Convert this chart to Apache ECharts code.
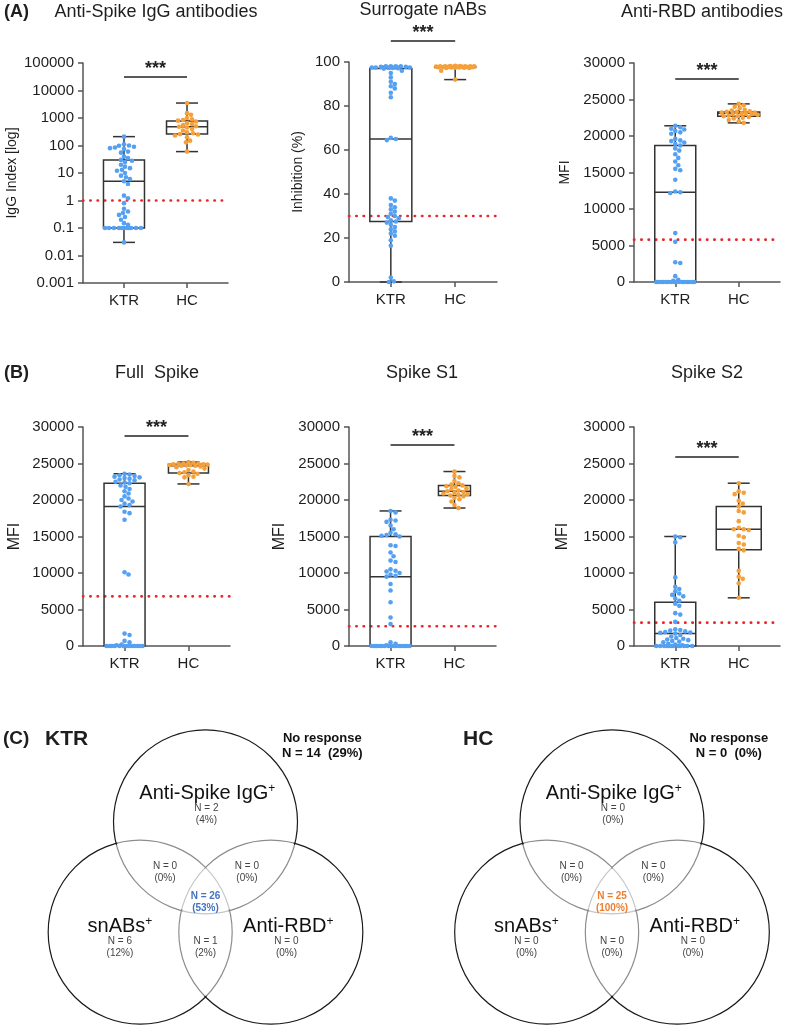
<!DOCTYPE html>
<html><head><meta charset="utf-8">
<script src="https://cdn.jsdelivr.net/npm/echarts@6/dist/echarts.min.js"></script>
<style>html,body{margin:0;padding:0;background:#fff}#c{width:789px;height:1025px}</style>
</head><body><div id="c"></div>
<script>
const FONT = '"Liberation Sans", Arial, sans-serif';
const categories = ['KTR', 'HC'];

// ---------- Panel A1: Anti-Spike IgG (log) ----------
const iggKTR = [210,110,100,98,90,85,80,75,60,55,40,35, 30,28,25,20,17,15,13,12,10,8,7,6, 5,
  4,1.5,1.2,0.8,0.5,0.4,0.35,0.3,0.25,0.2,0.15,0.13, 0.1,0.1,0.1,0.1,0.1,0.1,0.1,0.1,0.1,0.1,0.1, 0.03];
const iggHC = [3500,1500,1300,1000,900,850, 800,750,650,600,550,500, 480, 450,400,350,300,280,260, 250,230,200,150,130,60];
const iggBoxKTR = [0.03, 0.1, 5, 30, 210];   // min, q1, median, q3, max
const iggBoxHC = [60, 260, 480, 780, 3500];
const iggCutoff = 1;

// ---------- Panel A2: Surrogate nABs ----------
const snabKTR = [98,98,98,98,97.8,97.8,97.5,97.5,97.5,97.3,97.3,97.2, 97,96,95,93,91,90,89,88,86,84,65.5,65, 64.5,
  38,37,35,34,33,32,31,30,29.5,29,28,27.5,27,26,25,24,23,22,21,19,16.5,2,0.3,0];
const snabHC = [98.3,98.2,98.2,98.1,98.1,98,98,98,97.9,97.9,97.8,97.8,97.8,97.7,97.7,97.6,97.6,97.5,97.5,97.4,97.4,97.3,97.3,96,92];
const snabBoxKTR = [0, 27.5, 65, 97, 98];
const snabBoxHC = [92, 97.5, 97.8, 98, 98.3];
const snabCutoff = 30;

// ---------- Panel A3: Anti-RBD ----------
const rbdKTR = [21400,21200,21000,20900,20700,20500,20300,19600,19400,19300,19100,18900,
  18700,18300,18000,17500,17000,16500,16000,15500,15300,14000,12400,12300, 12200,
  6700,5500,2700,2600,800,300,150, 0,0,0,0,0,0,0,0,0,0,0,0,0,0,0,0,0];
const rbdHC = [24400,24200,24000,23800,23600,23500,23400,23300,23300,23200,23200,23100,23100,23000,23000,22900,22800,22700,22700,22600,22500,22400,22200,22000,21800];
const rbdBoxKTR = [0, 0, 12300, 18700, 21400];
const rbdBoxHC = [21800, 22700, 23100, 23300, 24400];
const rbdCutoff = 5800;

// ---------- Panel B1: Full Spike ----------
const fullKTR = [23600,23500,23400,23300,23200,23100,23000,22900,22800,22700,22500,22400,
  22300,22000,21800,21500,21200,20900,20500,20200,20000,19800,19500,19300, 19100,
  18400,18200,17300,10100,9800,1700,1500,700,500,200,100, 0,0,0,0,0,0,0,0,0,0,0,0,0];
const fullHC = [25200,25100,25000,25000,24950,24900,24900,24850,24800,24800,24750,24700,24700,24600,24500,24300,24100,23900,23800,23700,23600,23400,23200,23100,22200];
const fullBoxKTR = [0, 0, 19100, 22300, 23600];
const fullBoxHC = [22200, 23700, 24700, 24900, 25200];
const fullCutoff = 6800;

// ---------- Panel B2: Spike S1 ----------
const s1KTR = [18500,18300,17300,17200,17000,16500,16000,15500,15300,15200,15100,15000,
  13800,13700,12800,12300,11700,11500,10500,10300,10200,10000,9800,9600, 9500,
  8500,7600,6000,3900,3000,500,300,100, 0,0,0,0,0,0,0,0,0,0,0,0,0,0,0,0];
const s1HC = [23900,23300,23100,22600,22300,22100,22000,21900,21800,21600,21500,21300,21200,21100,21000,20900,20800,20700,20600,20500,20300,20100,19800,19300,18900];
const s1BoxKTR = [0, 0, 9500, 15000, 18500];
const s1BoxHC = [18900, 20600, 21200, 22000, 23900];
const s1Cutoff = 2700;

// ---------- Panel B3: Spike S2 ----------
const s2KTR = [15000,14900,14200,9400,8100,7800,7500,7200,7000,6800,6500,6200,
  5800,5500,4500,4300,3300,2300,2200,2100,2000,1900,1850,1800, 1700,
  1500,1300,1100,1000,900,800,700,600,500,300,200,100, 0,0,0,0,0,0,0,0,0,0,0,0];
const s2HC = [22300,21200,21000,20800,19900,19500,19100,18500,18300,17100,16200,16000,16000,15900,15100,14900,14100,13900,13300,13100,10300,9500,9200,8600,6600];
const s2BoxKTR = [0, 0, 1700, 6000, 15000];
const s2BoxHC = [6600, 13200, 16000, 19100, 22300];
const s2Cutoff = 3200;

// significance bar levels (data units)
const sigLevels = [31000, 109.5, 27800, 28770, 27530, 25890];
const sigText = '***';

// ---------- Venn (C) ----------
const vennSetNames = ['Anti-Spike IgG', 'snABs', 'Anti-RBD'];
// regions: IgG only, snABs only, RBD only, IgG&snABs, IgG&RBD, snABs&RBD, all three
const ktrCounts = [2, 6, 0, 0, 0, 1, 26];
const ktrPcts = [4, 12, 0, 0, 0, 2, 53];
const ktrNoResp = [14, 29];
const hcCounts = [0, 0, 0, 0, 0, 0, 25];
const hcPcts = [0, 0, 0, 0, 0, 0, 100];
const hcNoResp = [0, 0];

// ---------- layout / style ----------
const BLUE = '#55a0f0', ORANGE = '#f5a03a', AX = '#555', TXT = '#1e1e1e';
const XMIN = -0.65, XMAX = 1.65;
const panels = [
  {title:'Anti-Spike IgG antibodies', yName:'IgG Index [log]', log:true, min:0.001, max:100000,
   ktr:iggKTR, hc:iggHC, boxK:iggBoxKTR, boxH:iggBoxHC, cut:iggCutoff,
   grid:{left:83, top:63, width:145, height:220}, nameGap:64, nameSize:14, boxW:[41,41]},
  {title:'Surrogate nABs', yName:'Inhibition (%)', min:0, max:100, interval:20,
   ktr:snabKTR, hc:snabHC, boxK:snabBoxKTR, boxH:snabBoxHC, cut:snabCutoff,
   grid:{left:349, top:62, width:148, height:220}, nameGap:44, nameSize:14, boxW:[42,41]},
  {title:'Anti-RBD antibodies', yName:'MFI', min:0, max:30000, interval:5000,
   ktr:rbdKTR, hc:rbdHC, boxK:rbdBoxKTR, boxH:rbdBoxHC, cut:rbdCutoff,
   grid:{left:634, top:63, width:146, height:219}, nameGap:62, nameSize:14, boxW:[41,42]},
  {title:'Full  Spike', yName:'MFI', min:0, max:30000, interval:5000,
   ktr:fullKTR, hc:fullHC, boxK:fullBoxKTR, boxH:fullBoxHC, cut:fullCutoff,
   grid:{left:83, top:427, width:147, height:219}, nameGap:60, nameSize:16, boxW:[41,40]},
  {title:'Spike S1', yName:'MFI', min:0, max:30000, interval:5000,
   ktr:s1KTR, hc:s1HC, boxK:s1BoxKTR, boxH:s1BoxHC, cut:s1Cutoff,
   grid:{left:349, top:427, width:147, height:219}, nameGap:61, nameSize:16, boxW:[41,32]},
  {title:'Spike S2', yName:'MFI', min:0, max:30000, interval:5000,
   ktr:s2KTR, hc:s2HC, boxK:s2BoxKTR, boxH:s2BoxHC, cut:s2Cutoff,
   grid:{left:634, top:427, width:146, height:219}, nameGap:63, nameSize:16, boxW:[41,45]}
];

// beeswarm horizontal offsets (layout only)
function swarm(values, center, p) {
  const g = p.grid;
  const toPx = v => p.log
    ? g.top + g.height * (1 - (Math.log10(v) - Math.log10(p.min)) / (Math.log10(p.max) - Math.log10(p.min)))
    : g.top + g.height * (1 - (v - p.min) / (p.max - p.min));
  const unit = g.width / (XMAX - XMIN);
  const pts = values.map(v => ({v, y: toPx(v)})).sort((a, b) => a.y - b.y);
  const placed = [], out = [], D = 4.3, LIM = 19;
  for (const pt of pts) {
    let best = 0, bestScore = -1;
    for (let k = 0; k <= 2 * LIM; k++) {
      const off = (k % 2 === 1 ? 1 : -1) * Math.ceil(k / 2);
      let md = Infinity;
      for (const q of placed) {
        const d = Math.hypot(q.x - off, q.y - pt.y);
        if (d < md) md = d;
      }
      if (md >= D) { best = off; bestScore = md; break; }
      if (md > bestScore) { bestScore = md; best = off; }
    }
    placed.push({x: best, y: pt.y});
    out.push([center + best / unit, pt.v]);
  }
  return out;
}

const logFmt = v => {
  const e = Math.round(Math.log10(v));
  return e < 0 ? Math.pow(10, e).toFixed(-e) : String(Math.round(Math.pow(10, e)));
};

const grids = [], xAxes = [], yAxes = [], series = [];
panels.forEach((p, i) => {
  grids.push(Object.assign({outerBoundsMode: 'none', containLabel: false}, p.grid));
  xAxes.push({
    gridIndex: i, type: 'value', min: XMIN, max: XMAX,
    axisLine: {show: true, onZero: false, lineStyle: {color: AX, width: 1.5}},
    axisTick: {show: true, customValues: [0, 1], length: 5, lineStyle: {color: AX, width: 1.5}},
    axisLabel: {show: true, customValues: [0, 1], formatter: v => categories[Math.round(v)],
      fontSize: 15, margin: 10, color: TXT, fontFamily: FONT},
    splitLine: {show: false}
  });
  const y = {
    gridIndex: i, min: p.min, max: p.max,
    name: p.yName, nameLocation: 'middle', nameGap: p.nameGap,
    nameTextStyle: {fontSize: p.nameSize, color: TXT, fontFamily: FONT},
    axisLine: {show: true, onZero: false, lineStyle: {color: AX, width: 1.5}},
    axisTick: {show: true, length: 5, lineStyle: {color: AX, width: 1.5}},
    axisLabel: {fontSize: 15, margin: 9, color: TXT, fontFamily: FONT, formatter: v => String(v)},
    splitLine: {show: false}
  };
  if (p.log) {
    y.type = 'log'; y.logBase = 10; y.interval = 1;
    y.axisLabel.formatter = logFmt;
  } else {
    y.type = 'value'; y.interval = p.interval;
  }
  yAxes.push(y);

  // cutoff line
  series.push({type: 'line', xAxisIndex: i, yAxisIndex: i, silent: true, z: 2,
    symbol: 'none', data: [[XMIN, p.cut], [XMAX, p.cut]],
    lineStyle: {color: '#e8262b', width: 2.6, type: [0.4, 6.9], cap: 'round'}});
  // boxes
  series.push({type: 'custom', xAxisIndex: i, yAxisIndex: i, silent: true, z: 3,
    data: [[0].concat(p.boxK), [1].concat(p.boxH)],
    renderItem: (params, api) => {
      const x = api.value(0);
      const P = [1, 2, 3, 4, 5].map(k => api.coord([x, api.value(k)]));
      const cx = P[0][0];
      const bw = p.boxW[params.dataIndex] / 2, cw = 11;
      const st = {stroke: '#333', lineWidth: 1.5, fill: null};
      return {type: 'group', children: [
        {type: 'line', shape: {x1: cx, y1: P[3][1], x2: cx, y2: P[4][1]}, style: st},
        {type: 'line', shape: {x1: cx, y1: P[0][1], x2: cx, y2: P[1][1]}, style: st},
        {type: 'line', shape: {x1: cx - cw, y1: P[4][1], x2: cx + cw, y2: P[4][1]}, style: st},
        {type: 'line', shape: {x1: cx - cw, y1: P[0][1], x2: cx + cw, y2: P[0][1]}, style: st},
        {type: 'rect', shape: {x: cx - bw, y: P[3][1], width: 2 * bw, height: P[1][1] - P[3][1]},
          style: {stroke: '#333', lineWidth: 1.5, fill: 'rgba(0,0,0,0)'}},
        {type: 'line', shape: {x1: cx - bw, y1: P[2][1], x2: cx + bw, y2: P[2][1]}, style: st}
      ]};
    }});
  // points
  series.push({type: 'scatter', xAxisIndex: i, yAxisIndex: i, silent: true, z: 4,
    symbolSize: 4.6, itemStyle: {color: BLUE, opacity: 1}, data: swarm(p.ktr, 0, p)});
  series.push({type: 'scatter', xAxisIndex: i, yAxisIndex: i, silent: true, z: 4,
    symbolSize: 4.6, itemStyle: {color: ORANGE, opacity: 1}, data: swarm(p.hc, 1, p)});
  // significance bar
  series.push({type: 'custom', xAxisIndex: i, yAxisIndex: i, silent: true, z: 5,
    data: [[0, 1, sigLevels[i]]],
    renderItem: (params, api) => {
      const a = api.coord([api.value(0), api.value(2)]);
      const b = api.coord([api.value(1), api.value(2)]);
      return {type: 'group', children: [
        {type: 'line', shape: {x1: a[0], y1: a[1], x2: b[0], y2: b[1]}, style: {stroke: '#222', lineWidth: 1.5}},
        {type: 'text', style: {text: sigText, x: (a[0] + b[0]) / 2, y: a[1] - 8, align: 'center',
          verticalAlign: 'middle', font: 'bold 18px ' + FONT, fill: '#222'}}
      ]};
    }});
});

// ---------- Venn grids ----------
const vennCircles = [[0, 0.6], [-0.71, -0.6], [0.71, -0.6]];
const vennSetPos = [[0.02, 0.91], [-0.93, -0.54], [0.9, -0.54]];
const vennRegionPos = [[0.01, 0.68], [-0.93, -0.76], [0.88, -0.76], [-0.44, 0.05], [0.45, 0.05], [0, -0.76], [0, -0.27]];
const vennNoRespPos = [1.27, 1.42];
const vennDefs = [
  {grid: {left: 21.5, top: 739, width: 368, height: 276}, counts: ktrCounts, pcts: ktrPcts, nr: ktrNoResp, hi: '#4472c4'},
  {grid: {left: 428, top: 739, width: 368, height: 276}, counts: hcCounts, pcts: hcPcts, nr: hcNoResp, hi: '#ed7d31'}
];
vennDefs.forEach((vd, j) => {
  const gi = panels.length + j;
  grids.push(Object.assign({outerBoundsMode: 'none'}, vd.grid));
  xAxes.push({gridIndex: gi, type: 'value', min: -2, max: 2, show: false});
  yAxes.push({gridIndex: gi, type: 'value', min: -1.5, max: 1.5, show: false});
  // circle outlines
  series.push({type: 'custom', xAxisIndex: gi, yAxisIndex: gi, silent: true, z: 2,
    data: vennCircles,
    renderItem: (params, api) => {
      const c = api.coord([api.value(0), api.value(1)]);
      const r = api.size([1, 0])[0];
      return {type: 'circle', shape: {cx: c[0], cy: c[1], r: r}, style: {fill: null, stroke: '#1a1a1a', lineWidth: 1.2}};
    }});
  // translucent fills (lighten inner arcs)
  series.push({type: 'custom', xAxisIndex: gi, yAxisIndex: gi, silent: true, z: 3,
    data: vennCircles,
    renderItem: (params, api) => {
      const c = api.coord([api.value(0), api.value(1)]);
      const r = api.size([1, 0])[0];
      return {type: 'circle', shape: {cx: c[0], cy: c[1], r: r - 1.3}, style: {fill: 'rgba(255,255,255,0.5)'}};
    }});
  // set names
  series.push({type: 'custom', xAxisIndex: gi, yAxisIndex: gi, silent: true, z: 4,
    data: vennSetPos.map((pos, k) => [pos[0], pos[1], k]),
    renderItem: (params, api) => {
      const c = api.coord([api.value(0), api.value(1)]);
      const name = vennSetNames[api.value(2)];
      return {type: 'text', style: {text: '{m|' + name + '}{s|+}', x: c[0], y: c[1], align: 'center', verticalAlign: 'middle',
        rich: {m: {fontSize: 20, fontFamily: FONT, fill: '#111', lineHeight: 22},
               s: {fontSize: 12, fontFamily: FONT, fill: '#111', verticalAlign: 'top'}}}};
    }});
  // region counts
  series.push({type: 'custom', xAxisIndex: gi, yAxisIndex: gi, silent: true, z: 4,
    data: vennRegionPos.map((pos, k) => [pos[0], pos[1], k]),
    renderItem: (params, api) => {
      const c = api.coord([api.value(0), api.value(1)]);
      const k = api.value(2);
      const isAll = k === 6;
      return {type: 'text', style: {text: 'N = ' + vd.counts[k] + '\n(' + vd.pcts[k] + '%)', x: c[0], y: c[1],
        align: 'center', verticalAlign: 'middle', lineHeight: 12,
        font: (isAll ? 'bold ' : '') + '10px ' + FONT, fill: isAll ? vd.hi : '#444'}};
    }});
  // no response
  series.push({type: 'custom', xAxisIndex: gi, yAxisIndex: gi, silent: true, z: 4,
    data: [[vennNoRespPos[0], vennNoRespPos[1], vd.nr[0], vd.nr[1]]],
    renderItem: (params, api) => {
      const c = api.coord([api.value(0), api.value(1)]);
      return {type: 'text', style: {text: 'No response\nN = ' + api.value(2) + '  (' + api.value(3) + '%)',
        x: c[0], y: c[1], align: 'center', verticalAlign: 'middle', lineHeight: 15,
        font: 'bold 13px ' + FONT, fill: '#111'}};
    }});
});

function txt(text, x, y, size, bold, align) {
  return {type: 'text', x: x, y: y, silent: true, style: {text: text, font: (bold ? 'bold ' : '') + size + 'px ' + FONT,
    fill: TXT, align: align || 'center', verticalAlign: 'middle', textAlign: align || 'center', textVerticalAlign: 'middle'}};
}
const graphics = [
  txt('(A)', 4, 12, 18, true, 'left'),
  txt(panels[0].title, 156, 12, 18), txt(panels[1].title, 423, 10, 18), txt(panels[2].title, 702, 12, 18),
  txt('(B)', 4, 373, 18, true, 'left'),
  txt(panels[3].title, 157, 373, 18), txt(panels[4].title, 422, 373, 18), txt(panels[5].title, 707, 373, 18),
  txt('(C)', 3, 739, 19, true, 'left'),
  txt(categories[0], 45, 739, 21, true, 'left'),
  txt(categories[1], 463, 739, 21, true, 'left')
];

const chart = echarts.init(document.getElementById('c'), null, {renderer: 'canvas'});
chart.setOption({
  animation: false,
  backgroundColor: '#fff',
  textStyle: {fontFamily: FONT},
  grid: grids, xAxis: xAxes, yAxis: yAxes, series: series,
  graphic: graphics
});
</script></body></html>
